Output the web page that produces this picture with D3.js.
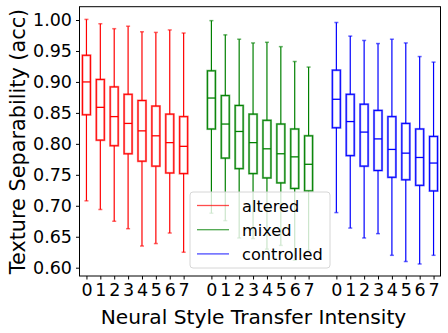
<!DOCTYPE html>
<html>
<head>
<meta charset="utf-8">
<script src="https://cdn.jsdelivr.net/npm/d3@7"></script>
<style>
  body { margin: 0; background: #fff; }
  svg { font-family: "DejaVu Sans", sans-serif; }
</style>
</head>
<body>
<svg id="chart"></svg>
<script>
const groups = ["altered", "mixed", "controlled"];
const colors = ["#ff0000", "#008000", "#0000ff"];
const intensities = ["0", "1", "2", "3", "4", "5", "6", "7"];
const yTicks = [0.6, 0.65, 0.7, 0.75, 0.8, 0.85, 0.9, 0.95, 1.0];

// per group: whisker low, q1, median, q3, whisker high
const alteredLow = [0.708, 0.694, 0.675, 0.663, 0.635, 0.639, 0.656, 0.625];
const alteredQ1 = [0.847, 0.806, 0.797, 0.784, 0.772, 0.764, 0.753, 0.752];
const alteredMed = [0.900, 0.859, 0.844, 0.833, 0.821, 0.813, 0.802, 0.796];
const alteredQ3 = [0.943, 0.904, 0.892, 0.880, 0.870, 0.861, 0.848, 0.844];
const alteredHigh = [1.001, 0.994, 0.986, 0.990, 0.981, 0.980, 0.984, 0.979];

const mixedLow = [0.688, 0.676, 0.648, 0.647, 0.630, 0.636, 0.612, 0.628];
const mixedQ1 = [0.824, 0.777, 0.760, 0.752, 0.745, 0.737, 0.728, 0.724];
const mixedMed = [0.874, 0.832, 0.820, 0.802, 0.792, 0.784, 0.779, 0.767];
const mixedQ3 = [0.918, 0.878, 0.862, 0.848, 0.838, 0.832, 0.824, 0.813];
const mixedHigh = [0.999, 0.976, 0.969, 0.963, 0.964, 0.957, 0.933, 0.924];

const controlledLow = [0.689, 0.664, 0.648, 0.655, 0.620, 0.610, 0.606, 0.620];
const controlledQ1 = [0.826, 0.781, 0.764, 0.757, 0.746, 0.742, 0.733, 0.724];
const controlledMed = [0.872, 0.836, 0.819, 0.808, 0.791, 0.785, 0.778, 0.769];
const controlledQ3 = [0.919, 0.880, 0.864, 0.854, 0.844, 0.833, 0.824, 0.812];
const controlledHigh = [0.996, 0.974, 0.967, 0.962, 0.969, 0.963, 0.941, 0.932];

const stats = [
  [alteredLow, alteredQ1, alteredMed, alteredQ3, alteredHigh],
  [mixedLow, mixedQ1, mixedMed, mixedQ3, mixedHigh],
  [controlledLow, controlledQ1, controlledMed, controlledQ3, controlledHigh]
];

const boxes = [];
stats.forEach((s, g) => {
  intensities.forEach((label, i) => {
    boxes.push({
      group: g, label: label, pos: g * 9 + i,
      low: s[0][i], q1: s[1][i], med: s[2][i], q3: s[3][i], high: s[4][i]
    });
  });
});

const width = 448;
const height = 333;
const svg = d3.select("#chart").attr("width", width).attr("height", height);

const xScale = d3.scaleLinear().domain([-0.5, 25.5]).range([79.5, 440.5]);
const yScale = d3.scaleLinear().domain([0.5866, 1.0215]).range([276, 6.7]);
const boxW = 8;
const capW = 4;

// axes
const xAxis = d3.axisBottom(xScale)
  .tickValues(boxes.map((d) => d.pos))
  .tickFormat((p) => intensities[p % 9])
  .tickSizeOuter(0).tickSize(3.5).tickPadding(4.5);

const yAxis = d3.axisLeft(yScale)
  .tickValues(yTicks)
  .tickFormat(d3.format(".2f"))
  .tickSizeOuter(0).tickSize(3.5).tickPadding(4);

const gx = svg.append("g").attr("transform", `translate(0, ${yScale.range()[0]})`).call(xAxis);
gx.select(".domain").remove();
gx.selectAll("text").attr("font-size", 17.5).attr("fill", "#000").attr("font-family", "DejaVu Sans");

const gy = svg.append("g").attr("transform", `translate(${xScale.range()[0]}, 0)`).call(yAxis);
gy.select(".domain").remove();
gy.selectAll("text").attr("font-size", 17.5).attr("fill", "#000").attr("font-family", "DejaVu Sans");

// boxes
const bg = svg.selectAll(".box")
  .data(boxes)
  .enter()
  .append("g")
  .attr("class", "box");

bg.append("line")
  .attr("x1", (d) => xScale(d.pos)).attr("x2", (d) => xScale(d.pos))
  .attr("y1", (d) => yScale(d.q3)).attr("y2", (d) => yScale(d.high))
  .attr("stroke", (d) => colors[d.group]).attr("stroke-width", 1.2);
bg.append("line")
  .attr("x1", (d) => xScale(d.pos)).attr("x2", (d) => xScale(d.pos))
  .attr("y1", (d) => yScale(d.q1)).attr("y2", (d) => yScale(d.low))
  .attr("stroke", (d) => colors[d.group]).attr("stroke-width", 1.2);

["low", "high"].forEach((k) => {
  bg.append("line")
    .attr("x1", (d) => xScale(d.pos) - capW / 2).attr("x2", (d) => xScale(d.pos) + capW / 2)
    .attr("y1", (d) => yScale(d[k])).attr("y2", (d) => yScale(d[k]))
    .attr("stroke", (d) => colors[d.group]).attr("stroke-width", 1.5).attr("stroke-opacity", 0.6);
});

bg.append("rect")
  .attr("x", (d) => xScale(d.pos) - boxW / 2)
  .attr("width", boxW)
  .attr("y", (d) => yScale(d.q3))
  .attr("height", (d) => yScale(d.q1) - yScale(d.q3))
  .attr("fill", "none")
  .attr("stroke", (d) => colors[d.group]).attr("stroke-width", 2.2).attr("stroke-opacity", 0.45);
bg.append("rect")
  .attr("x", (d) => xScale(d.pos) - boxW / 2)
  .attr("width", boxW)
  .attr("y", (d) => yScale(d.q3))
  .attr("height", (d) => yScale(d.q1) - yScale(d.q3))
  .attr("fill", "none")
  .attr("stroke", (d) => colors[d.group]).attr("stroke-width", 1);

bg.append("line")
  .attr("x1", (d) => xScale(d.pos) - boxW / 2).attr("x2", (d) => xScale(d.pos) + boxW / 2)
  .attr("y1", (d) => yScale(d.med)).attr("y2", (d) => yScale(d.med))
  .attr("stroke", (d) => colors[d.group]).attr("stroke-width", 1.3);

// frame
svg.append("rect")
  .attr("x", xScale.range()[0]).attr("y", yScale.range()[1])
  .attr("width", xScale.range()[1] - xScale.range()[0])
  .attr("height", yScale.range()[0] - yScale.range()[1])
  .attr("fill", "none").attr("stroke", "#000").attr("stroke-width", 1);

// legend
const legend = svg.append("g").attr("transform", "translate(190, 192)");
legend.append("rect")
  .attr("width", 140).attr("height", 76).attr("rx", 3)
  .attr("fill", "#fff").attr("fill-opacity", 0.8)
  .attr("stroke", "#d6d6d6").attr("stroke-width", 1);
groups.forEach((name, i) => {
  const y = 13.5 + i * 24.2;
  legend.append("line")
    .attr("x1", 7).attr("x2", 39).attr("y1", y).attr("y2", y)
    .attr("stroke", colors[i]).attr("stroke-width", 1.3).attr("stroke-opacity", 0.7);
  legend.append("text")
    .attr("x", 52).attr("y", y + 6)
    .attr("font-size", 16.2).attr("fill", "#000")
    .text(name);
});

// titles
svg.append("text")
  .attr("x", 253.5).attr("y", 324)
  .attr("text-anchor", "middle").attr("font-size", 20.2)
  .text("Neural Style Transfer Intensity");

svg.append("text")
  .attr("transform", "translate(25, 141.5) rotate(-90)")
  .attr("text-anchor", "middle").attr("font-size", 20.8)
  .text("Texture Separability (acc)");
</script>
</body>
</html>
